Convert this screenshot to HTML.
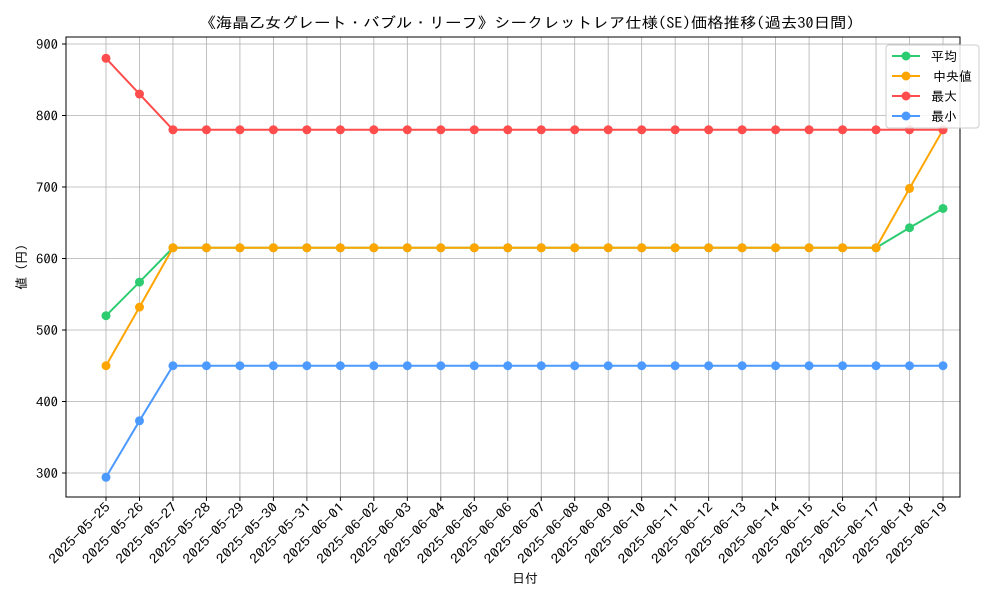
<!DOCTYPE html>
<html><head><meta charset="utf-8"><style>
body{margin:0;background:#fff}
svg text{font-family:"IPAGothic","Liberation Sans","Noto Sans CJK JP",sans-serif;fill:#000}
</style></head><body>
<svg id="c" width="1000" height="600" xmlns="http://www.w3.org/2000/svg"></svg>
<script>
const dates=["2025-05-25","2025-05-26","2025-05-27","2025-05-28","2025-05-29","2025-05-30","2025-05-31","2025-06-01","2025-06-02","2025-06-03","2025-06-04","2025-06-05","2025-06-06","2025-06-07","2025-06-08","2025-06-09","2025-06-10","2025-06-11","2025-06-12","2025-06-13","2025-06-14","2025-06-15","2025-06-16","2025-06-17","2025-06-18","2025-06-19"];
const avgVals=[520,567,615,615,615,615,615,615,615,615,615,615,615,615,615,615,615,615,615,615,615,615,615,615,643,670];
const medVals=[450,532,615,615,615,615,615,615,615,615,615,615,615,615,615,615,615,615,615,615,615,615,615,615,698,780];
const maxVals=[880,830,780,780,780,780,780,780,780,780,780,780,780,780,780,780,780,780,780,780,780,780,780,780,780,780];
const minVals=[294,373,450,450,450,450,450,450,450,450,450,450,450,450,450,450,450,450,450,450,450,450,450,450,450,450];
const yTicks=[300,400,500,600,700,800,900];
const seriesNames=["平均","中央値","最大","最小"];
const NS="http://www.w3.org/2000/svg",svg=document.getElementById('c');
function el(t,a,p){const e=document.createElementNS(NS,t);for(const k in a)e.setAttribute(k,a[k]);(p||svg).appendChild(e);return e;}
const L=66,R=960,T=37,B=497;
const xs=i=>106+i*(943-106)/(dates.length-1);
const ys=v=>44+(900-v)*(473-44)/600;
dates.forEach((d,i)=>{const g=el('line',{x1:xs(i),x2:xs(i),y1:T,y2:B,stroke:'#b0b0b0','stroke-width':0.8});

el('line',{x1:xs(i),x2:xs(i),y1:B,y2:B+4,stroke:'#000'});
const x=xs(i)+5,y=B+11;
const t=el('text',{x:x,y:y,'font-size':13,'text-anchor':'end',textLength:80,lengthAdjust:'spacingAndGlyphs',transform:`rotate(-45 ${x} ${y})`});t.textContent=d;
});
yTicks.forEach(v=>{const g=el('line',{x1:L,x2:R,y1:ys(v),y2:ys(v),stroke:'#b0b0b0','stroke-width':0.8});

el('line',{x1:L-4,x2:L,y1:ys(v),y2:ys(v),stroke:'#000'});
const t=el('text',{x:L-8,y:ys(v)+5,'font-size':13,'text-anchor':'end',textLength:22,lengthAdjust:'spacingAndGlyphs'});t.textContent=v;
});
const fr=el('rect',{x:L,y:T,width:R-L,height:B-T,fill:'none',stroke:'#000','stroke-width':1});

const series=[[avgVals,'#2ecc71'],[medVals,'#ffa500'],[maxVals,'#ff4c4c'],[minVals,'#4c9aff']];
series.forEach(([vals,c],si)=>{const g=el('g',{});

el('polyline',{points:vals.map((v,i)=>xs(i)+','+ys(v)).join(' '),fill:'none',stroke:c,'stroke-width':2});
vals.forEach((v,i)=>{const p=el('circle',{cx:xs(i),cy:ys(v),r:4.5,fill:c},g);
});});
const lg=el('g',{});
el('rect',{x:886,y:45,width:93,height:83,rx:3,fill:'#fff','fill-opacity':0.85,stroke:'#ccc'},lg);
series.forEach(([v,c],i)=>{const y=56+i*20;
el('line',{x1:892,x2:920,y1:y,y2:y,stroke:c,'stroke-width':2},lg);
el('circle',{cx:906,cy:y,r:4.5,fill:c},lg);
const t=el('text',{x:i==1?933:931,y:y+5,'font-size':13},lg);t.textContent=seriesNames[i];
});
const tt=el('text',{x:527,y:28,'font-size':15,'text-anchor':'middle',textLength:655,lengthAdjust:'spacingAndGlyphs'});tt.textContent='《海晶乙女グレート・バブル・リーフ》シークレットレア仕様(SE)価格推移(過去30日間)';

const xt=el('text',{x:525,y:583,'font-size':13,'text-anchor':'middle'});xt.textContent='日付';

const yt=el('text',{x:26,y:267,'font-size':13,'text-anchor':'middle',transform:'rotate(-90 26 267)'});yt.textContent='値 (円)';

</script></body></html>
